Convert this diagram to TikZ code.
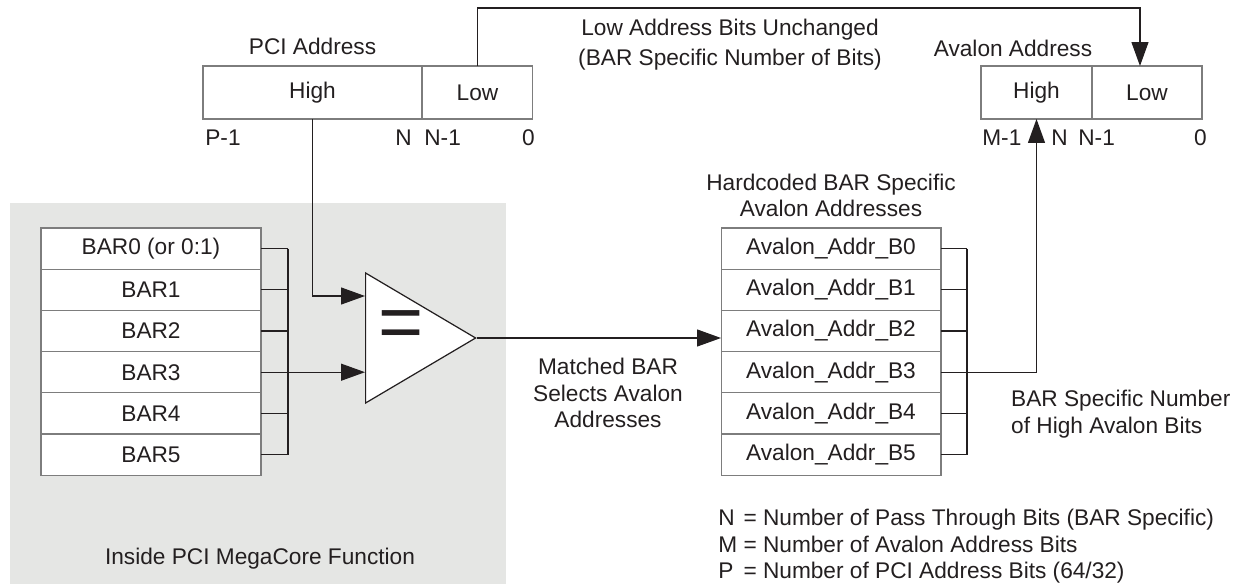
\documentclass[tikz,border=0pt]{standalone}
\usepackage{fontspec}
\setmainfont{Liberation Sans}
\usetikzlibrary{positioning,calc,arrows.meta,shapes.geometric}
\definecolor{corefill}{RGB}{229,230,228}
\definecolor{edgegray}{RGB}{125,125,125}
\definecolor{inkblack}{RGB}{35,31,32}

\begin{document}
\begin{tikzpicture}[
    x=0.02cm, y=-0.02cm,
    font=\fontsize{12.9}{15}\selectfont, text=inkblack,
    node distance=0.2cm and 0.3cm,
    field/.style={draw=edgegray, fill=white, line width=0.6pt, minimum height=1.06cm, inner sep=0pt, outer sep=0pt},
    row/.style={draw=edgegray, fill=white, line width=0.6pt, minimum width=4.4cm, minimum height=0.824cm, inner sep=0pt, outer sep=0pt},
    wire/.style={inkblack, line width=0.7pt},
    arrow/.style={wire, -{Triangle[length=0.48cm, width=0.34cm]}},
    bits/.style={inner sep=0pt}
  ]
  \useasboundingbox (0,0) rectangle (1235,584);

  % Core area
  \fill[corefill] (10,203) rectangle (506,584);
  \node (corelabel) at (260,559) {Inside PCI MegaCore Function};

  % PCI address
  \node[field, minimum width=4.38cm] (pcihigh) at (312.5,92.5) {High};
  \node[field, minimum width=2.22cm, right=0pt of pcihigh] (pcilow) {Low};
  \node[above=0.1cm of pcihigh] (pcititle) {PCI Address};
  \node[bits, anchor=west] (pcimsb) at (205,138) {P-1};
  \node[bits, anchor=east] (pcin) at (412,138) {N};
  \node[bits, anchor=west] (pcinm) at (424,138) {N-1};
  \node[bits, anchor=east] (pcilsb) at (535,138) {0};

  % Avalon address
  \node[field, minimum width=2.22cm] (avhigh) at (1036.5,92.5) {High};
  \node[field, minimum width=2.2cm, right=0pt of avhigh] (avlow) {Low};
  \node (avtitle) at (1013,48) {Avalon Address};
  \node[bits, anchor=west] (avmsb) at (982,138) {M-1};
  \node[bits, anchor=east] (avn) at (1068,138) {N};
  \node[bits, anchor=west] (avnm) at (1078,138) {N-1};
  \node[bits, anchor=east] (avlsb) at (1207,138) {0};

  % BAR registers and hardcoded addresses
  \foreach \lbl [count=\i from 0] in {{BAR0 (or 0:1)},BAR1,BAR2,BAR3,BAR4,BAR5}
    \node[row] (bar\i) at (151,248.6+41.2*\i) {\lbl};
  \foreach \i in {0,...,5}
    \node[row] (av\i) at (831,248.6+41.2*\i) {Avalon\_Addr\_B\i};
  \node[align=center, above=0.1cm of av0] (avlist) {Hardcoded BAR Specific\\Avalon Addresses};

  % Buses
  \coordinate (lbus) at (288,0);
  \coordinate (rbus) at (967,0);
  \foreach \i in {0,...,5} {
    \draw[wire] (bar\i.east) -- (bar\i.east -| lbus);
    \draw[wire] (av\i.east) -- (av\i.east -| rbus);
  }
  \draw[wire] (bar0.east -| lbus) -- (bar5.east -| lbus);
  \draw[wire] (av0.east -| rbus) -- (av5.east -| rbus);

  % Comparator
  \node[isosceles triangle, isosceles triangle stretches, draw=inkblack, fill=white, line width=0.7pt,
        minimum width=2.6cm, minimum height=2.2cm, inner sep=0pt, anchor=lower side] (cmp) at (365,338) {};
  \node[font=\fontsize{44}{44}\selectfont] (eqsign) at (401,330) {=};

  % Connections
  \coordinate (toprun) at (0,8);
  \draw[arrow] (pcilow.north) -- (pcilow.north |- toprun) -| ([xshift=-0.14cm]avlow.north);
  \draw[arrow] (pcihigh.south) |- ([yshift=0.84cm]cmp.lower side);
  \draw[arrow] (bar3.east) -- (bar3.east -| cmp.lower side);
  \draw[arrow] (cmp.apex) -- (cmp.apex -| av2.west);
  \draw[arrow] (av3.east) -| (avhigh.south);

  % Annotations
  \node[align=center] (passlabel) at (730,45) {Low Address Bits Unchanged\\[2pt](BAR Specific Number of Bits)};
  \node[align=center] (matchlabel) at (608,393) {Matched BAR\\Selects Avalon\\Addresses};
  \node[align=left, anchor=west] (highbits) at (1005,414) {BAR Specific Number\\of High Avalon Bits};
  \node[anchor=north west, inner sep=0pt] (legend) at (718,507) {%
    \begin{tabular}{@{}l@{ }l@{}}
      N & = Number of Pass Through Bits (BAR Specific)\\
      M & = Number of Avalon Address Bits\\
      P & = Number of PCI Address Bits (64/32)
    \end{tabular}};
\end{tikzpicture}
\end{document}
